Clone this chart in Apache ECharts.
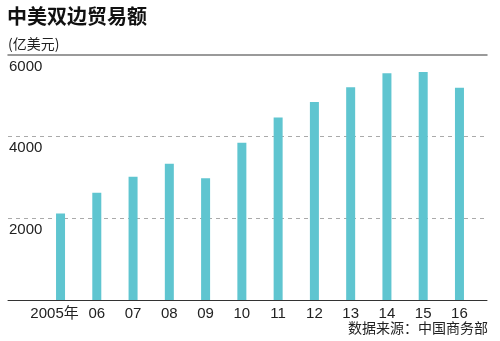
<!DOCTYPE html>
<html><head><meta charset="utf-8">
<script src="https://cdn.jsdelivr.net/npm/echarts@6/dist/echarts.min.js"></script>
<style>html,body{margin:0;padding:0;background:#fff}#c{width:500px;height:341px}</style>
</head><body><div id="c"></div>
<script>
var categories = ['2005年','06','07','08','09','10','11','12','13','14','15','16'];
var tradeValues = [2116, 2627, 3021, 3337, 2983, 3854, 4467, 4847, 5210, 5551, 5583, 5196];
var yTicks = [0, 2000, 4000, 6000];
var titleText = '中美双边贸易额';
var unitText = '(亿美元)';
var sourceText = '数据来源：中国商务部';

var FONT = '"Liberation Sans", "Noto Sans CJK SC", sans-serif';
var chart = echarts.init(document.getElementById('c'), null, {renderer: 'canvas'});
chart.setOption({
  animation: false,
  backgroundColor: '#fff',
  grid: [
    {left: 8, right: 13, top: 55, bottom: 41},
    {left: 42.4, right: 22.4, top: 55, bottom: 41}
  ],
  xAxis: [
    {gridIndex: 0, type: 'value', min: 0, max: 1, position: 'bottom',
     axisLine: {show: true, lineStyle: {color: '#333', width: 1}},
     axisTick: {show: false}, axisLabel: {show: false}, splitLine: {show: false}},
    {gridIndex: 0, type: 'value', min: 0, max: 1, position: 'top',
     axisLine: {show: true, onZero: false, lineStyle: {color: '#7a7a7a', width: 1.5}},
     axisTick: {show: false}, axisLabel: {show: false}, splitLine: {show: false}},
    {gridIndex: 1, type: 'category', data: categories, position: 'bottom',
     axisLine: {show: false}, axisTick: {show: false},
     axisLabel: {
       interval: 0, hideOverlap: false,
       margin: 6, fontSize: 15, color: '#222', fontFamily: FONT,
       formatter: function (v, i) { return i === 0 ? '{a|' + v + '}' : v; },
       rich: {a: {fontSize: 15, color: '#222', fontFamily: FONT, padding: [0, 12, 0, 0]}}
     }}
  ],
  yAxis: [
    {gridIndex: 0, type: 'value', min: yTicks[0], max: yTicks[yTicks.length - 1], interval: 2000,
     axisLine: {show: false}, axisTick: {show: false},
     axisLabel: {inside: true, margin: 1, verticalAlign: 'top', padding: [4, 0, 0, 0],
       fontSize: 15, color: '#222', fontFamily: FONT, showMinLabel: false,
       formatter: function (v) { return yTicks.indexOf(v) >= 0 ? String(v) : ''; }},
     splitLine: {show: true, showMinLine: false, showMaxLine: false,
       lineStyle: {color: '#aaaaaa', type: [4, 4], width: 1}}},
    {gridIndex: 1, type: 'value', min: 0, max: 6000, show: false}
  ],
  series: [{
    type: 'bar', xAxisIndex: 2, yAxisIndex: 1, data: tradeValues,
    barWidth: 9, itemStyle: {color: '#5fc5d0'}
  }],
  graphic: [
    {type: 'text', left: 7, top: 6, style: {text: titleText, font: 'bold 20px "Noto Sans CJK SC", sans-serif', fill: '#111'}},
    {type: 'text', left: 8, top: 37, style: {text: unitText, font: '14px "Noto Sans CJK SC", sans-serif', fill: '#222'}},
    {type: 'text', right: 12, top: 321, style: {text: sourceText, font: '14px "Noto Sans CJK SC", sans-serif', fill: '#222'}}
  ]
});
</script></body></html>
